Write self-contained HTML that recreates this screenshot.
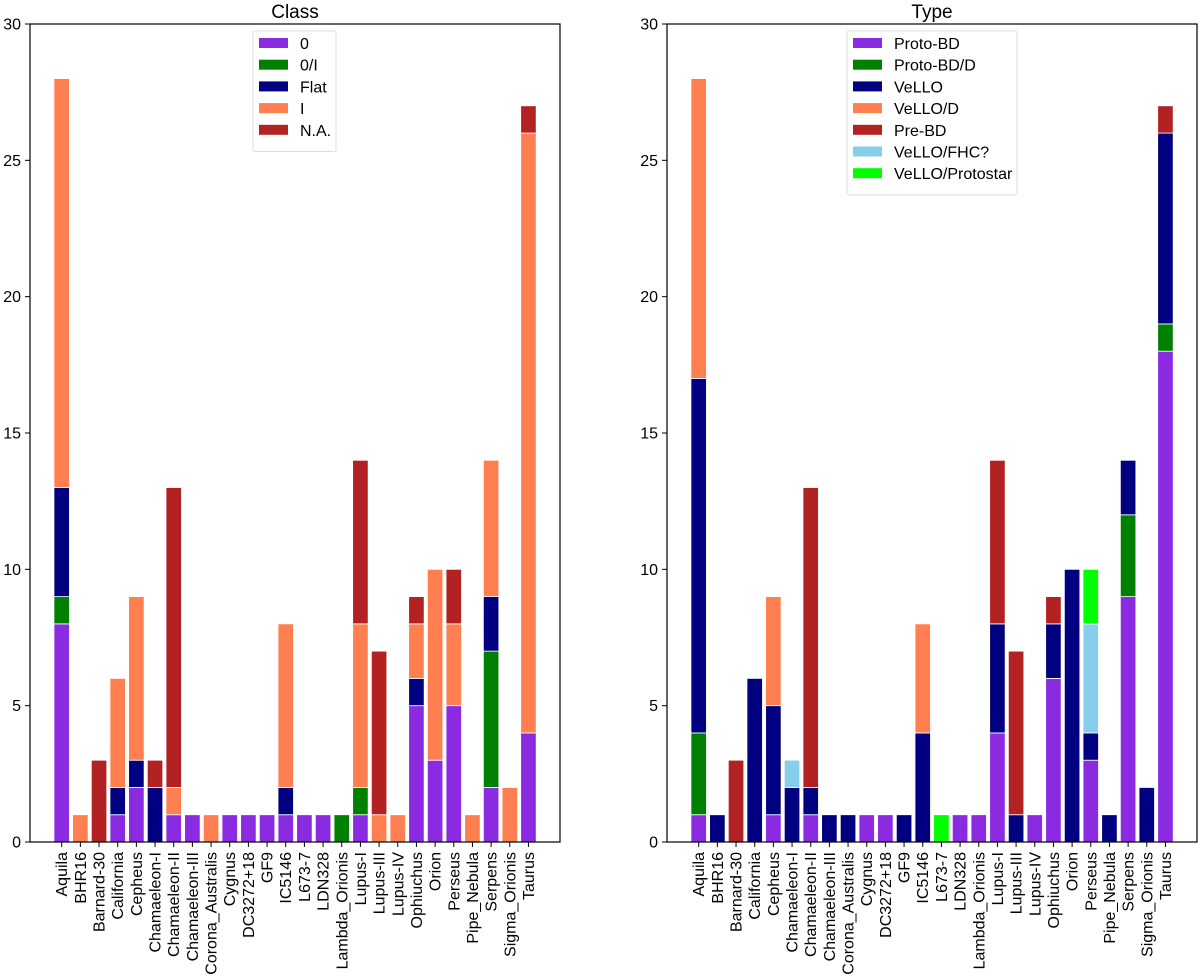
<!DOCTYPE html>
<html><head><meta charset="utf-8"><style>
body{margin:0;background:#fff}
svg{display:block;font-family:"Liberation Sans","DejaVu Sans",sans-serif}
</style></head><body>
<svg id="chart" width="1200" height="978" viewBox="0 0 1200 978" xmlns="http://www.w3.org/2000/svg"></svg>
<script>
const categories=["Aquila","BHR16","Barnard-30","California","Cepheus","Chamaeleon-I","Chamaeleon-II","Chamaeleon-III","Corona_Australis","Cygnus","DC3272+18","GF9","IC5146","L673-7","LDN328","Lambda_Orionis","Lupus-I","Lupus-III","Lupus-IV","Ophiuchus","Orion","Perseus","Pipe_Nebula","Serpens","Sigma_Orionis","Taurus"];
const classNames=["0","0/I","Flat","I","N.A."];
const class0   =[8,0,0,1,2,0,1,1,0,1,1,1,1,1,1,0,1,0,0,5,3,5,0,2,0,4];
const class0I  =[1,0,0,0,0,0,0,0,0,0,0,0,0,0,0,1,1,0,0,0,0,0,0,5,0,0];
const classFlat=[4,0,0,1,1,2,0,0,0,0,0,0,1,0,0,0,0,0,0,1,0,0,0,2,0,0];
const classI   =[15,1,0,4,6,0,1,0,1,0,0,0,6,0,0,0,6,1,1,2,7,3,1,5,2,22];
const classNA  =[0,0,3,0,0,1,11,0,0,0,0,0,0,0,0,0,6,6,0,1,0,2,0,0,0,1];
const typeNames=["Proto-BD","Proto-BD/D","VeLLO","VeLLO/D","Pre-BD","VeLLO/FHC?","VeLLO/Protostar"];
const typePBD  =[1,0,0,0,1,0,1,0,0,1,1,0,0,0,1,1,4,0,1,6,0,3,0,9,0,18];
const typePBDD =[3,0,0,0,0,0,0,0,0,0,0,0,0,0,0,0,0,0,0,0,0,0,0,3,0,1];
const typeVeLLO=[13,1,0,6,4,2,1,1,1,0,0,1,4,0,0,0,4,1,0,2,10,1,1,2,2,7];
const typeVeD  =[11,0,0,0,4,0,0,0,0,0,0,0,4,0,0,0,0,0,0,0,0,0,0,0,0,0];
const typePre  =[0,0,3,0,0,0,11,0,0,0,0,0,0,0,0,0,6,6,0,1,0,0,0,0,0,1];
const typeFHC  =[0,0,0,0,0,1,0,0,0,0,0,0,0,0,0,0,0,0,0,0,0,4,0,0,0,0];
const typeProto=[0,0,0,0,0,0,0,0,0,0,0,0,0,1,0,0,0,0,0,0,0,2,0,0,0,0];
const yTicks=[0,5,10,15,20,25,30];

const NS="http://www.w3.org/2000/svg";
const svg=document.getElementById('chart');
function mk(tag,attrs,parent){const e=document.createElementNS(NS,tag);for(const k in attrs)e.setAttribute(k,attrs[k]);(parent||svg).appendChild(e);return e;}

function drawPanel(x0,title,names,series,colors,legend,slug){
  const g=mk('g',{});
  
  
  const top=24,bot=842,w=530;
  const xs=i=>x0+31.7+i*18.67;
  const ys=v=>bot-(v/30)*(bot-top);
  const bw=15.5;
  categories.forEach((c,i)=>{
    let base=0;
    series.forEach((s,k)=>{
      const v=s[i];
      if(v>0){
        const r=mk('rect',{x:xs(i)-bw/2,y:ys(base+v),width:bw,height:ys(base)-ys(base+v),fill:colors[k],stroke:'#fff','stroke-width':0.8},g);
        
        
      }
      base+=v;
    });
    mk('line',{x1:xs(i),x2:xs(i),y1:bot,y2:bot+5,stroke:'#000','stroke-width':1},g);
    const t=mk('text',{x:0,y:0,transform:`translate(${xs(i)+5.5},${bot+10}) rotate(-90)`,'text-anchor':'end','font-size':16},g);
    t.textContent=c;
    
    
  });
  yTicks.forEach(v=>{
    mk('line',{x1:x0-5,x2:x0,y1:ys(v),y2:ys(v),stroke:'#000','stroke-width':1},g);
    const t=mk('text',{x:x0-9,y:ys(v)+5.5,'text-anchor':'end','font-size':16},g);
    t.textContent=v;
    
    
  });
  const fr=mk('rect',{x:x0,y:top,width:w,height:bot-top,fill:'none',stroke:'#000','stroke-width':1.2},g);
  
  
  const tt=mk('text',{x:x0+w/2,y:18,'text-anchor':'middle','font-size':19},g);
  tt.textContent=title;
  
  
  const lg=mk('g',{},g);
  
  
  mk('rect',{x:legend.x,y:31,width:legend.w,height:names.length*21.7+12,fill:'#fff','fill-opacity':0.8,stroke:'#ddd','stroke-width':1,rx:2},lg);
  names.forEach((n,k)=>{
    const cy=43+k*21.7;
    const e=mk('g',{},lg);
    
    
    mk('rect',{x:legend.x+6,y:cy-5,width:29,height:10,fill:colors[k]},e);
    const t=mk('text',{x:legend.x+47,y:cy+6,'font-size':16},e);
    t.textContent=n;
  });
}
drawPanel(30,'Class',classNames,[class0,class0I,classFlat,classI,classNA],
  ['#8a2be2','#008000','#000080','#ff7f50','#b22222'],{x:253,w:83},'class');
drawPanel(667,'Type',typeNames,[typePBD,typePBDD,typeVeLLO,typeVeD,typePre,typeFHC,typeProto],
  ['#8a2be2','#008000','#000080','#ff7f50','#b22222','#87ceeb','#00ff00'],{x:847,w:170},'type');
</script>
</body></html>
